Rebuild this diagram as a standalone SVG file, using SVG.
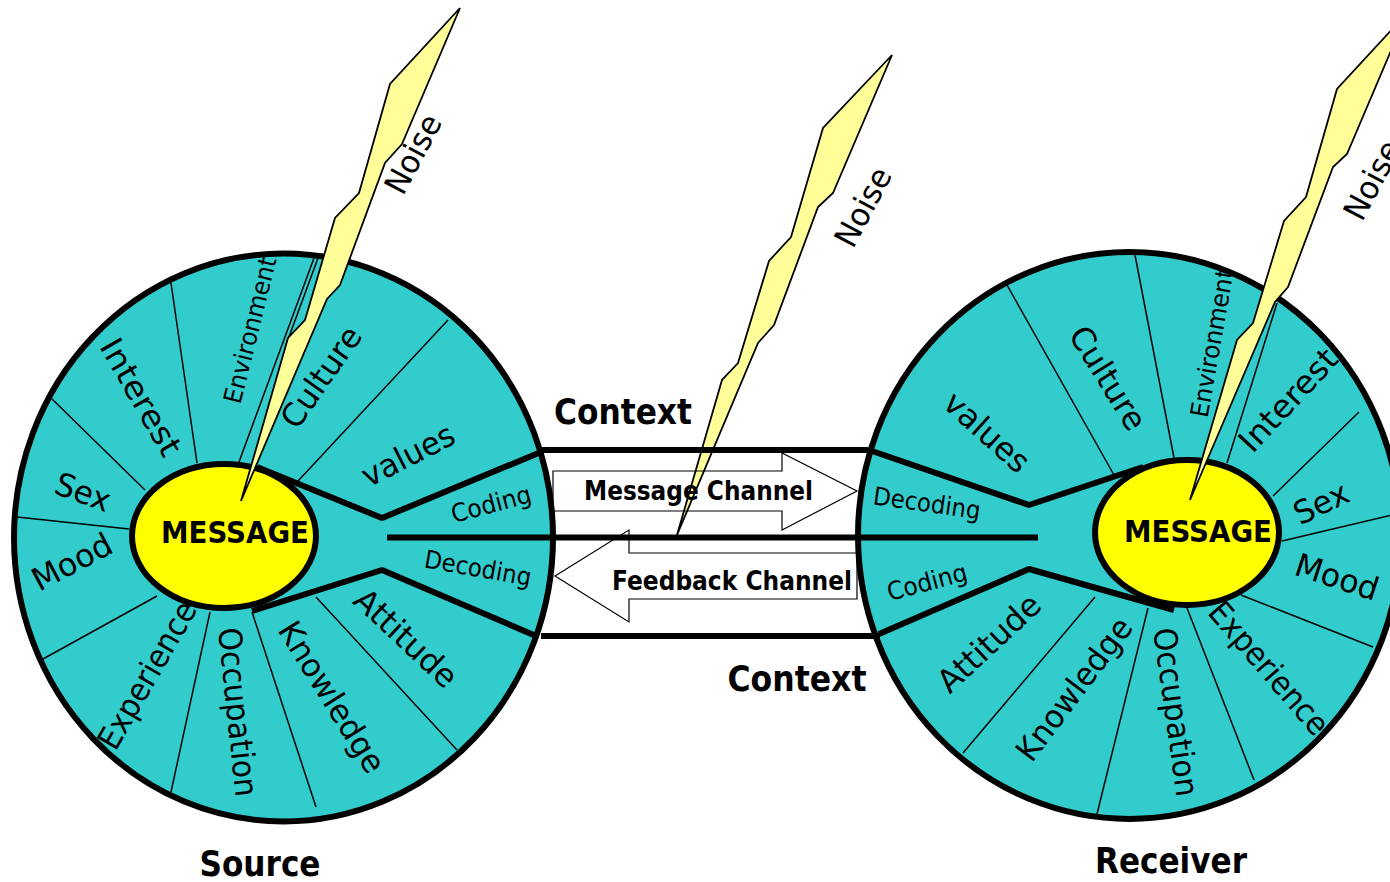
<svg xmlns="http://www.w3.org/2000/svg" width="1390" height="882" viewBox="0 0 1390 882">
<style>
text{font-family:"DejaVu Sans","Liberation Sans",sans-serif;fill:#000;text-anchor:middle}
.b{font-weight:bold}
.big{font-size:35px}
.ch{font-size:27px}
.msg{font-size:31px}
.w{font-size:32px}
.s{font-size:25px}
.wheel{fill:#33cccc;stroke:#000;stroke-width:6}
.yolk{fill:#ffff00;stroke:#000;stroke-width:6}
.spoke{stroke:#000;stroke-width:1.5;fill:none}
.thick{stroke:#000;stroke-width:6;fill:none;stroke-linejoin:bevel}
.bolt{fill:#ffff99;stroke:#000;stroke-width:1.8;stroke-linejoin:miter}
.arrow{fill:none;stroke:#000;stroke-width:1.2}
</style>
<rect width="1390" height="882" fill="#fff"/>
<g id="source">
<ellipse class="wheel" cx="283.500" cy="537.500" rx="269.500" ry="284"/>
<path class="spoke" d="M171 283L197 463M52 399L145 490M17 517L129 529M314 258L239 462M318 258L286 345M448 320L298 481M157 596L43 659M210 612L171 792M252 612L316 807M316 597L457 750"/>
<ellipse class="yolk" cx="224" cy="536" rx="92" ry="72"/>
<path class="thick" d="M541 452L382 518L257 467M536 636L382 570L252 611"/>
<text class="w" textLength="130" lengthAdjust="spacingAndGlyphs" dy=".35em" transform="translate(141 397) rotate(60)">Interest</text>
<text class="w" textLength="57" lengthAdjust="spacingAndGlyphs" dy=".35em" transform="translate(83 492) rotate(20)">Sex</text>
<text class="w" textLength="86" lengthAdjust="spacingAndGlyphs" dy=".35em" transform="translate(72 562) rotate(-28)">Mood</text>
<text class="w" textLength="165" lengthAdjust="spacingAndGlyphs" dy=".35em" transform="translate(147 675) rotate(-60)">Experience</text>
<text class="w" textLength="170" lengthAdjust="spacingAndGlyphs" dy=".35em" transform="translate(238 712) rotate(84)">Occupation</text>
<text class="w" textLength="172" lengthAdjust="spacingAndGlyphs" dy=".35em" transform="translate(332 697) rotate(58)">Knowledge</text>
<text class="w" textLength="128" lengthAdjust="spacingAndGlyphs" dy=".35em" transform="translate(406 638) rotate(43)">Attitude</text>
<text class="w" textLength="100" lengthAdjust="spacingAndGlyphs" dy=".35em" transform="translate(408 455) rotate(-27)">values</text>
<text class="w" textLength="116" lengthAdjust="spacingAndGlyphs" dy=".35em" transform="translate(321 377) rotate(-55)">Culture</text>
<text class="s" textLength="150" lengthAdjust="spacingAndGlyphs" dy=".35em" transform="translate(250 330) rotate(-76)">Environment</text>
<text class="s" textLength="82" lengthAdjust="spacingAndGlyphs" dy=".35em" transform="translate(491 504) rotate(-15)">Coding</text>
<text class="s" textLength="108" lengthAdjust="spacingAndGlyphs" dy=".35em" transform="translate(478 568) rotate(10)">Decoding</text>
<text class="msg b" x="235" y="543" textLength="148" lengthAdjust="spacingAndGlyphs">MESSAGE</text>
<text class="big b" x="260" y="876" textLength="121" lengthAdjust="spacingAndGlyphs">Source</text>
</g>
<g id="receiver">
<ellipse class="wheel" cx="1129.500" cy="535.500" rx="271.500" ry="283.500"/>
<path class="spoke" d="M1007 285L1114 475M1135 255L1174 458M1277 303L1227 463M1359 412L1273 496M1392 515L1282 541M1241 595L1373 647M1187 608L1254 780M1148 608L1097 814M1095 597L963 753"/>
<ellipse class="yolk" cx="1187" cy="532.500" rx="92" ry="72.500"/>
<path class="thick" d="M872 451L1029 505L1143 467M879 634L1029 569L1174 610"/>
<text class="w" textLength="128" lengthAdjust="spacingAndGlyphs" dy=".35em" transform="translate(1288 400) rotate(-47)">Interest</text>
<text class="w" textLength="57" lengthAdjust="spacingAndGlyphs" dy=".35em" transform="translate(1321 503) rotate(-26)">Sex</text>
<text class="w" textLength="86" lengthAdjust="spacingAndGlyphs" dy=".35em" transform="translate(1337 577) rotate(18)">Mood</text>
<text class="w" textLength="165" lengthAdjust="spacingAndGlyphs" dy=".35em" transform="translate(1269 668) rotate(49)">Experience</text>
<text class="w" textLength="170" lengthAdjust="spacingAndGlyphs" dy=".35em" transform="translate(1176 712) rotate(82)">Occupation</text>
<text class="w" textLength="170" lengthAdjust="spacingAndGlyphs" dy=".35em" transform="translate(1074 689) rotate(-53)">Knowledge</text>
<text class="w" textLength="128" lengthAdjust="spacingAndGlyphs" dy=".35em" transform="translate(989 643) rotate(-43)">Attitude</text>
<text class="w" textLength="103" lengthAdjust="spacingAndGlyphs" dy=".35em" transform="translate(987 432) rotate(42)">values</text>
<text class="w" textLength="116" lengthAdjust="spacingAndGlyphs" dy=".35em" transform="translate(1108 378) rotate(58)">Culture</text>
<text class="s" textLength="150" lengthAdjust="spacingAndGlyphs" dy=".35em" transform="translate(1212 343) rotate(-80)">Environment</text>
<text class="s" textLength="82" lengthAdjust="spacingAndGlyphs" dy=".35em" transform="translate(927 582) rotate(-15)">Coding</text>
<text class="s" textLength="108" lengthAdjust="spacingAndGlyphs" dy=".35em" transform="translate(927 503) rotate(8)">Decoding</text>
<text class="msg b" x="1198" y="542" textLength="148" lengthAdjust="spacingAndGlyphs">MESSAGE</text>
<text class="big b" x="1171" y="873" textLength="152" lengthAdjust="spacingAndGlyphs">Receiver</text>
</g>
<g id="noise-source">
<polygon class="bolt" points="460,8 390,84 359,193 335,218 305,320 288,338 241,501 327,299 340,285 385,163 402,144"/>
<text class="w" textLength="85" lengthAdjust="spacingAndGlyphs" dy=".35em" transform="translate(413 154) rotate(-62)">Noise</text>
</g>
<g id="noise-channel">
<polygon class="bolt" points="892,55 823,128 791,237 769,261 738,363 722,380 677,535 758,343 774,325 818,207 833,193"/>
<text class="w" textLength="85" lengthAdjust="spacingAndGlyphs" dy=".35em" transform="translate(863 207) rotate(-62)">Noise</text>
</g>
<g id="noise-receiver">
<polygon class="bolt" points="1407,13 1337,89 1306,197 1284,221 1253,323 1237,340 1190,500 1275,302 1288,287 1333,167 1347,154"/>
<text class="w" textLength="85" lengthAdjust="spacingAndGlyphs" dy=".35em" transform="translate(1372 180) rotate(-62)">Noise</text>
</g>
<g id="connectors">
<path class="thick" d="M541 450H868M541 636H880M387 537.500H1038"/>
<polygon class="arrow" points="553,471 782,471 782,453 857,491 782,530 782,511 553,511"/>
<polygon class="arrow" points="555,576 629,530 629,553 857,553 857,599 629,599 629,622"/>
</g>
<g id="labels">
<text class="big b" x="623" y="424" textLength="138" lengthAdjust="spacingAndGlyphs">Context</text>
<text class="big b" x="797" y="691" textLength="139" lengthAdjust="spacingAndGlyphs">Context</text>
<text class="ch b" x="698.500" y="500" textLength="229" lengthAdjust="spacingAndGlyphs">Message Channel</text>
<text class="ch b" x="732" y="590" textLength="240" lengthAdjust="spacingAndGlyphs">Feedback Channel</text>
</g>
</svg>
